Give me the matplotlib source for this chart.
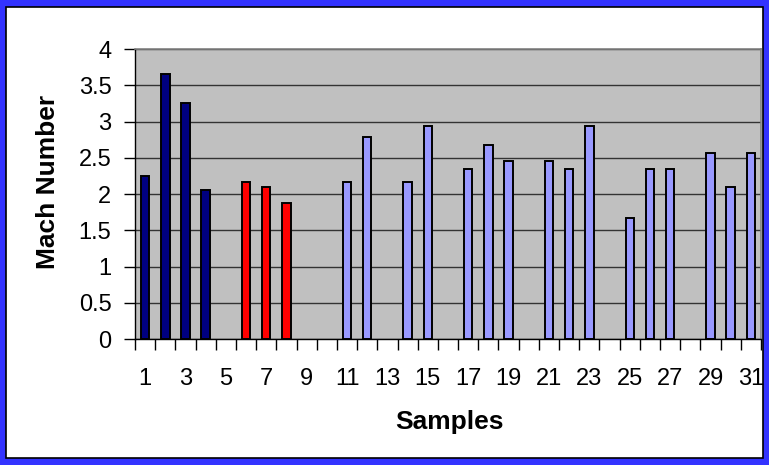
import numpy as np
import matplotlib
matplotlib.use("Agg")
import matplotlib.pyplot as plt
from matplotlib.patches import Rectangle

# sample numbers 1..31, missing samples have no bar
samples = list(range(1, 32))
mach = [2.25, 3.66, 3.25, 2.06, np.nan, 2.17, 2.09, 1.88, np.nan, np.nan,
        2.17, 2.78, np.nan, 2.17, 2.94, np.nan, 2.34, 2.67, 2.45, np.nan,
        2.45, 2.34, 2.94, np.nan, 1.67, 2.34, 2.34, np.nan, 2.56, 2.09, 2.56]
groups = ["a"] * 4 + ["b"] * 6 + ["c"] * 21
group_colors = {"a": "#000080", "b": "#FF0000", "c": "#9999FF"}
tick_labels = [str(s) if s % 2 == 1 else "" for s in samples]

plt.rcParams['font.family'] = ['Liberation Sans', 'DejaVu Sans']

fig = plt.figure(figsize=(7.69, 4.65), dpi=100)

# blue frame with black inner line and white inside
fig.patches.append(Rectangle((0, 0), 1, 1, transform=fig.transFigure,
                             facecolor="#3333FF", edgecolor="none", zorder=0))
fig.patches.append(Rectangle((6 / 769, 7 / 465), 1 - 12 / 769, 1 - 14 / 465,
                             transform=fig.transFigure, facecolor="white",
                             edgecolor="black", linewidth=1.2, zorder=1))

ax = fig.add_axes([135 / 769, 1 - 339 / 465, 626 / 769, 290 / 465])
ax.set_facecolor("#C0C0C0")
ax.set_zorder(2)

x = np.array(samples)
vals = np.nan_to_num(np.array(mach, dtype=float))
cols = [group_colors[g] for g in groups]
for xi, v, c in zip(x, vals, cols):
    if v > 0:
        ax.bar(xi, v, width=0.42, color=c, edgecolor="black", linewidth=1.4, zorder=3)

ax.set_xlim(0.5, 31.5)
ax.set_ylim(0, 4)
ax.set_yticks(np.arange(0, 4.01, 0.5))
ax.set_yticklabels(["0", "0.5", "1", "1.5", "2", "2.5", "3", "3.5", "4"])
ax.yaxis.grid(True, color="#333333", linewidth=1.0, zorder=1)
ax.set_axisbelow(True)

ax.set_xticks(np.arange(0.5, 31.6, 1.0))
ax.set_xticklabels([])
ax.set_xticks(x, minor=True)
ax.set_xticklabels(tick_labels, minor=True)
ax.tick_params(axis="x", which="major", length=8, width=1, color="black", direction="out")
ax.tick_params(axis="x", which="minor", length=0, pad=21, labelsize=17)
ax.tick_params(axis="y", length=8, width=1, direction="out", labelsize=17, pad=9)

for side in ["top", "right"]:
    ax.spines[side].set_color("#808080")
    ax.spines[side].set_linewidth(1.2)
for side in ["left", "bottom"]:
    ax.spines[side].set_color("black")
    ax.spines[side].set_linewidth(1.0)

fig.text(449 / 769, 1 - 422 / 465, "Samples", fontsize=19, fontweight="bold",
         ha="center", va="center")
fig.text(48 / 769, 1 - 182 / 465, "Mach Number", fontsize=19, fontweight="bold",
         ha="center", va="center", rotation=90)

fig.savefig("out.png", dpi=100)
